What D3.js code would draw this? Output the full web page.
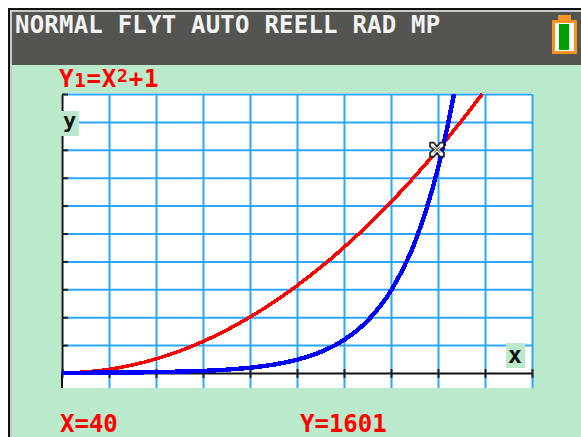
<!DOCTYPE html>
<html>
<head>
<meta charset="utf-8">
<script src="https://d3js.org/d3.v7.min.js"></script>
<style>
    html, body { margin: 0; padding: 0; background: #fff; overflow: hidden; }
    text { font-family: "DejaVu Sans Mono", monospace; font-weight: bold; }
    .axis path { stroke: #111; stroke-width: 2; }
    .axis line { stroke: #222; stroke-width: 2; }
    .grid line { stroke: #2aa6ff; stroke-width: 2; }
    .grid path { display: none; }
</style>
</head>
<body>
<div id="chart"></div>
<script>
// values
const xTicks = [0, 5, 10, 15, 20, 25, 30, 35, 40, 45, 50];
const yTicks = [0, 200, 400, 600, 800, 1000, 1200, 1400, 1600, 1800, 2000];

const redX = [0, 2.5, 5, 7.5, 10, 12.5, 15, 17.5, 20, 22.5, 25, 27.5, 30, 32.5, 35, 37.5, 40, 42.5, 44.7];
const redY = [1, 7, 26, 57, 101, 157, 226, 307, 401, 507, 626, 757, 901, 1057, 1226, 1407, 1601, 1807, 2000];

const blueX = [0, 2.5, 5, 7.5, 10, 12.5, 15, 17.5, 20, 22.5, 25, 27.5, 30, 32.5, 35, 37.5, 40, 41, 41.7];
const blueY = [1, 2, 2.5, 4, 6, 10, 15, 24, 38, 60, 95, 150, 237, 374, 590, 930, 1470, 1763, 2000];

const cursorX = 40;
const cursorY = 1601;

const headerText = "NORMAL FLYT AUTO REELL RAD MP";

const width = 581, height = 437;

const svg = d3.select("#chart").append("svg")
    .attr("width", width)
    .attr("height", height)
    .style("display", "block");

// screen frame
svg.append("rect").attr("x", 8).attr("y", 8).attr("width", width - 8).attr("height", height - 8).attr("fill", "#111");
svg.append("rect").attr("x", 10).attr("y", 10).attr("width", width - 10).attr("height", height - 10).attr("fill", "#c9c9c9");
svg.append("rect").attr("x", 12).attr("y", 12).attr("width", width - 12).attr("height", height - 12).attr("fill", "#bbe9cc");
svg.append("rect").attr("x", 12).attr("y", 12).attr("width", width - 12).attr("height", 53).attr("fill", "#545551");

svg.append("text")
    .attr("x", 15)
    .attr("y", 33)
    .attr("font-size", 24)
    .attr("letter-spacing", 0.22)
    .attr("fill", "#f2f2f2")
    .text(headerText);

// battery
const bat = svg.append("g");
bat.append("rect").attr("x", 558).attr("y", 15).attr("width", 13).attr("height", 8).attr("fill", "#f7931e");
bat.append("rect").attr("x", 552).attr("y", 20).attr("width", 25).attr("height", 34).attr("rx", 1).attr("fill", "#f7931e");
bat.append("rect").attr("x", 555).attr("y", 23).attr("width", 19).attr("height", 28).attr("fill", "#fff");
bat.append("rect").attr("x", 559).attr("y", 24).attr("width", 10).attr("height", 26).attr("fill", "#009e00");

// plot
const x = d3.scaleLinear().domain([0, 50]).range([62, 532]);
const y = d3.scaleLinear().domain([0, 2000]).range([373, 94]);

svg.append("rect").attr("x", 61).attr("y", 93).attr("width", 472).attr("height", 295).attr("fill", "#fff");

svg.append("g")
    .attr("class", "grid")
    .attr("transform", "translate(0,388)")
    .call(d3.axisBottom(x).tickValues(xTicks.slice(1)).tickSize(-294).tickFormat(""));

svg.append("g")
    .attr("class", "grid")
    .attr("transform", "translate(62,0)")
    .call(d3.axisRight(y).tickValues(yTicks.slice(1)).tickSize(470).tickFormat(""));

const xAxis = svg.append("g")
    .attr("class", "axis")
    .attr("transform", "translate(0," + y(0) + ")")
    .call(d3.axisBottom(x).tickValues(xTicks).tickSize(5).tickSizeOuter(0).tickFormat(""));
xAxis.selectAll(".tick line").attr("y1", -4);

svg.append("g")
    .attr("class", "axis")
    .attr("transform", "translate(" + x(0) + ",0)")
    .call(d3.axisRight(y).tickValues(yTicks).tickSize(6).tickSizeOuter(0).tickFormat(""));

// axis runs past the x axis down to the edge of the plot
svg.append("line")
    .attr("x1", x(0)).attr("x2", x(0))
    .attr("y1", y(0)).attr("y2", 388)
    .attr("stroke", "#111").attr("stroke-width", 2);

const line = d3.line()
    .x(d => x(d[0]))
    .y(d => y(d[1]))
    .curve(d3.curveMonotoneX);

svg.append("path")
    .attr("d", line(d3.zip(redX, redY)))
    .attr("fill", "none")
    .attr("stroke", "#f00")
    .attr("stroke-width", 3.6)
    .attr("shape-rendering", "crispEdges");

svg.append("path")
    .attr("d", line(d3.zip(blueX, blueY)))
    .attr("fill", "none")
    .attr("stroke", "#00f")
    .attr("stroke-width", 4.4)
    .attr("shape-rendering", "crispEdges");

// trace cursor
const cur = svg.append("g")
    .attr("transform", "translate(" + (x(cursorX) - 1) + "," + y(cursorY) + ")")
    .attr("fill", "#fff")
    .attr("stroke", "#222")
    .attr("stroke-width", 1.7);
cur.append("path")
    .attr("stroke-linejoin", "round")
    .attr("d", "M0,-3L3,-7L7,-7L7,-3L3,0L7,3L7,7L3,7L0,3L-3,7L-7,7L-7,3L-3,0L-7,-3L-7,-7L-3,-7Z");
cur.append("path").attr("d", "M-3,-3L3,3M3,-3L-3,3").attr("fill", "none").attr("stroke-width", 1);

// axis name boxes
svg.append("rect").attr("x", 61).attr("y", 111).attr("width", 18).attr("height", 25).attr("fill", "#bbe9cc");
svg.append("text").attr("x", 63).attr("y", 128).attr("font-size", 22).attr("fill", "#111").text("y");
svg.append("rect").attr("x", 506).attr("y", 343).attr("width", 19).attr("height", 25).attr("fill", "#bbe9cc");
svg.append("text").attr("x", 508).attr("y", 363).attr("font-size", 23).attr("fill", "#111").text("x");

// red readouts
const fn = svg.append("text")
    .attr("x", 59)
    .attr("y", 87)
    .attr("font-size", 24)
    .attr("letter-spacing", 0.8)
    .attr("fill", "#f00");
fn.append("tspan").text("Y");
fn.append("tspan").attr("font-size", 19).text("1");
fn.append("tspan").text("=X");
fn.append("tspan").attr("font-size", 18).attr("dy", -5).text("2");
fn.append("tspan").attr("dy", 5).text("+1");

svg.append("text").attr("x", 60).attr("y", 432).attr("font-size", 24).attr("fill", "#f00").text("X=" + cursorX);
svg.append("text").attr("x", 300).attr("y", 432).attr("font-size", 24).attr("fill", "#f00").text("Y=" + cursorY);
</script>
</body>
</html>
